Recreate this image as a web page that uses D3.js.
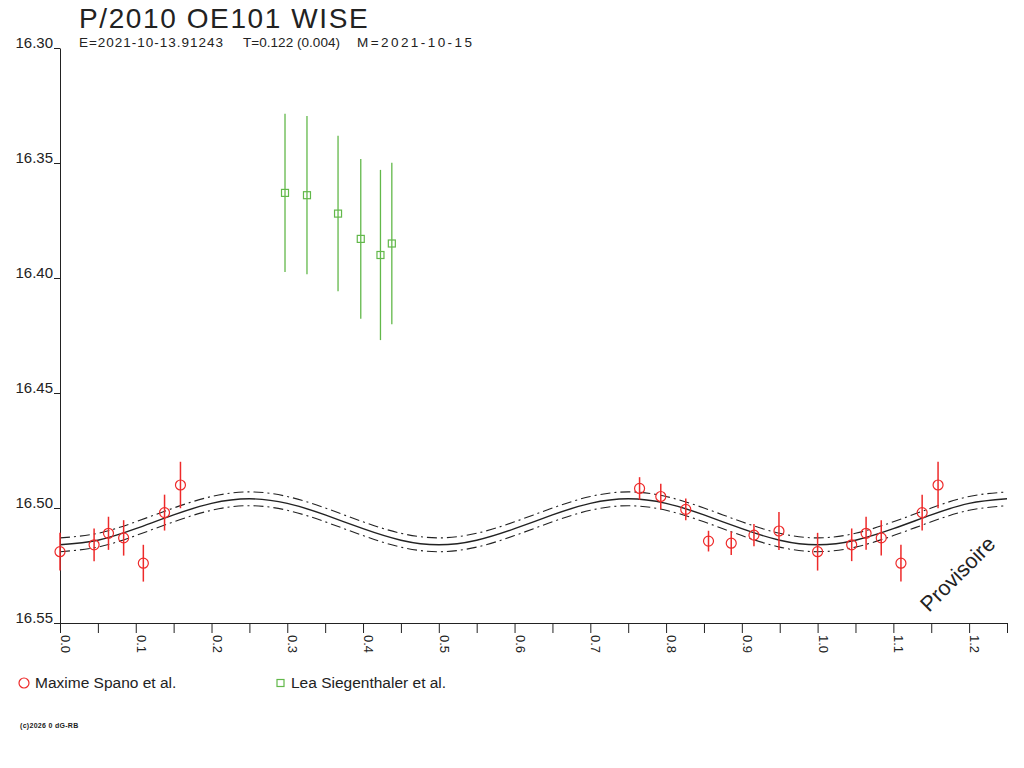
<!DOCTYPE html>
<html>
<head>
<meta charset="utf-8">
<script src="https://cdn.jsdelivr.net/npm/d3@7"></script>
<style>
  body { margin: 0; background: #fff; }
  text { font-family: "Liberation Sans", Arial, sans-serif; fill: #222; }
</style>
</head>
<body>
<svg id="canvas" width="1024" height="768"></svg>
<script>
// Maxime Spano et al. (red circles)
let spanoPhase = [0.000, 0.045, 0.064, 0.084, 0.110, 0.138, 0.159, 0.765, 0.793, 0.826, 0.856, 0.886, 0.916, 0.949]
let spanoMag   = [16.519, 16.516, 16.511, 16.513, 16.524, 16.502, 16.490, 16.4915, 16.495, 16.5006, 16.5144, 16.5153, 16.5118, 16.510]
let spanoErr   = [0.0082, 0.0071, 0.0072, 0.0077, 0.0080, 0.0078, 0.0101, 0.0049, 0.0055, 0.0047, 0.0045, 0.0051, 0.0048, 0.0083]

// Lea Siegenthaler et al. (green squares)
let leaPhase = [0.297, 0.326, 0.367, 0.397, 0.423, 0.438]
let leaMag   = [16.363, 16.364, 16.372, 16.383, 16.390, 16.385]
let leaErr   = [0.0344, 0.0344, 0.0338, 0.0347, 0.0370, 0.0351]

// fitted light curve, read every 0.05 of phase
let fitPhase = [0.00, 0.05, 0.10, 0.15, 0.20, 0.25, 0.30, 0.35, 0.40, 0.45, 0.50, 0.55, 0.60,
                0.65, 0.70, 0.75, 0.80, 0.85, 0.90, 0.95, 1.00, 1.05, 1.10, 1.15, 1.20, 1.25]
let fitMag   = [16.516, 16.514, 16.509, 16.503, 16.498, 16.496, 16.498, 16.503, 16.509, 16.514, 16.516, 16.514, 16.509,
                16.503, 16.498, 16.496, 16.498, 16.503, 16.509, 16.514, 16.516, 16.514, 16.509, 16.503, 16.498, 16.496]
let fitSigma = 0.003

let yTicks  = [16.30, 16.35, 16.40, 16.45, 16.50, 16.55]
let xLabels = ['0.0', '0.1', '0.2', '0.3', '0.4', '0.5', '0.6', '0.7', '0.8', '0.9', '1.0', '1.1', '1.2']

let titleText = 'P/2010 OE101 WISE'
let subTexts  = ['E=2021-10-13.91243', 'T=0.122 (0.004)', 'M=2021-10-15']
let legendNames = ['Maxime Spano et al.', 'Lea Siegenthaler et al.']

let red = '#ee2a2a'
let green = '#62b84a'
let ink = '#222'

let svg = d3.select('#canvas')

let x = d3.scaleLinear().domain([0, 1.25]).range([60, 1007])
let y = d3.scaleLinear().domain([16.30, 16.55]).range([48, 623])

// points with phase < 0.25 are repeated one cycle later
let spano = []
spanoPhase.forEach((p, i) => {
  spano.push({ p: p, m: spanoMag[i], e: spanoErr[i] })
  if (p + 1 <= 1.25) spano.push({ p: p + 1, m: spanoMag[i], e: spanoErr[i] })
})
let lea = leaPhase.map((p, i) => ({ p: p, m: leaMag[i], e: leaErr[i] }))
let fit = fitPhase.map((p, i) => ({ p: p, m: fitMag[i] }))

// axes
let yAxis = svg.append('g')
  .attr('transform', 'translate(' + x(0) + ',0)')
  .call(d3.axisLeft(y).tickValues(yTicks).tickSize(6).tickSizeOuter(0).tickFormat(d3.format('.2f')))
yAxis.selectAll('text')
  .attr('x', -7).attr('y', -1).attr('dy', 0)
  .attr('font-size', 15)
  .style('fill', ink)

let xAxis = svg.append('g')
  .attr('transform', 'translate(0,' + y(16.55) + ')')
  .call(d3.axisBottom(x).tickValues(d3.range(0, 1.2501, 0.05)).tickSize(10).tickSizeOuter(0).tickFormat(''))

svg.selectAll('.domain, .tick line').attr('stroke', ink)
svg.selectAll('.tick').attr('font-family', null)

xLabels.forEach((lab) => {
  svg.append('text')
    .attr('transform', 'translate(' + (x(+lab) + 1) + ',635) rotate(90)')
    .attr('font-size', 13)
    .text(lab)
})

// fitted curve with its envelope
let line = d3.line().x(d => x(d.p)).y(d => y(d.m)).curve(d3.curveNatural)
let lineUp = d3.line().x(d => x(d.p)).y(d => y(d.m - fitSigma)).curve(d3.curveNatural)
let lineDown = d3.line().x(d => x(d.p)).y(d => y(d.m + fitSigma)).curve(d3.curveNatural)

svg.append('path').datum(fit).attr('d', lineUp)
  .attr('fill', 'none').attr('stroke', ink).attr('stroke-width', 1.1).attr('stroke-dasharray', '10,4,2,4')
svg.append('path').datum(fit).attr('d', lineDown)
  .attr('fill', 'none').attr('stroke', ink).attr('stroke-width', 1.1).attr('stroke-dasharray', '10,4,2,4')
svg.append('path').datum(fit).attr('d', line)
  .attr('fill', 'none').attr('stroke', ink).attr('stroke-width', 1.4)

// Spano: error bars + circles
svg.append('g').selectAll('line')
  .data(spano).enter().append('line')
  .attr('x1', d => x(d.p)).attr('x2', d => x(d.p))
  .attr('y1', d => y(d.m - d.e)).attr('y2', d => y(d.m + d.e))
  .attr('stroke', red).attr('stroke-width', 1.5)
svg.append('g').selectAll('circle')
  .data(spano).enter().append('circle')
  .attr('cx', d => x(d.p)).attr('cy', d => y(d.m)).attr('r', 5)
  .attr('fill', 'none').attr('stroke', red).attr('stroke-width', 1.2)

// Siegenthaler: error bars + squares
svg.append('g').selectAll('line')
  .data(lea).enter().append('line')
  .attr('x1', d => x(d.p)).attr('x2', d => x(d.p))
  .attr('y1', d => y(d.m - d.e)).attr('y2', d => y(d.m + d.e))
  .attr('stroke', green).attr('stroke-width', 1.3)
svg.append('g').selectAll('rect')
  .data(lea).enter().append('rect')
  .attr('x', d => x(d.p) - 3.5).attr('y', d => y(d.m) - 3.5)
  .attr('width', 7).attr('height', 7)
  .attr('fill', 'none').attr('stroke', green).attr('stroke-width', 1.2)

// titles
svg.append('text')
  .attr('x', 79).attr('y', 28)
  .attr('font-size', 28).attr('letter-spacing', 1.6)
  .text(titleText)

let subX = [79, 243, 357]
let subW = [144, 97, 115]
subTexts.forEach((t, i) => {
  svg.append('text')
    .attr('x', subX[i]).attr('y', 47)
    .attr('font-size', 13.5)
    .attr('textLength', subW[i]).attr('lengthAdjust', 'spacing')
    .text(t)
})

// legend
svg.append('circle').attr('cx', 24).attr('cy', 683).attr('r', 5)
  .attr('fill', 'none').attr('stroke', red).attr('stroke-width', 1.2)
svg.append('text').attr('x', 35).attr('y', 688).attr('font-size', 15.5).text(legendNames[0])
svg.append('rect').attr('x', 277).attr('y', 679.5).attr('width', 7).attr('height', 7)
  .attr('fill', 'none').attr('stroke', green).attr('stroke-width', 1.2)
svg.append('text').attr('x', 291).attr('y', 688).attr('font-size', 15.5).text(legendNames[1])

// watermark + footer
svg.append('text')
  .attr('transform', 'translate(929,613) rotate(-45)')
  .attr('font-size', 21.5)
  .text('Provisoire')

svg.append('text')
  .attr('x', 20).attr('y', 728)
  .attr('font-size', 7).attr('font-weight', 'bold').attr('letter-spacing', 0.3)
  .text('(c)2026 0 dG-RB')
</script>
</body>
</html>
